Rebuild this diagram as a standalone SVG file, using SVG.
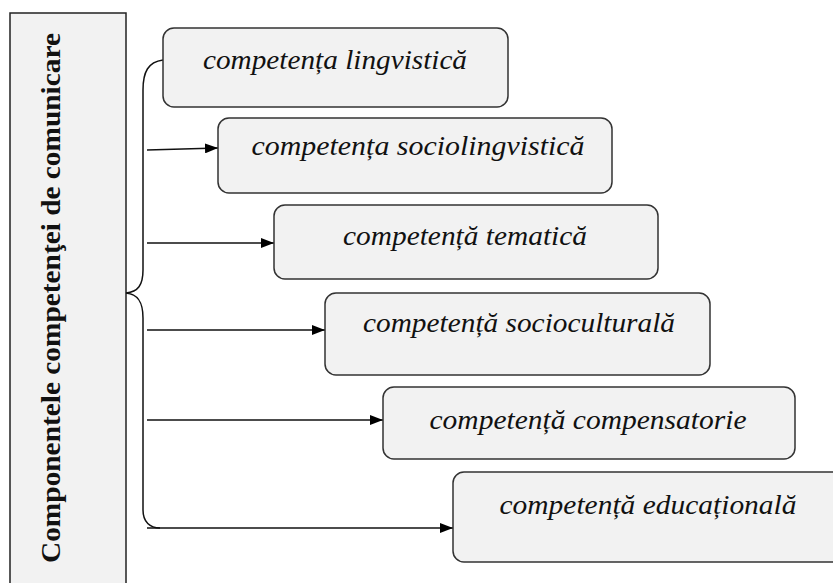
<svg xmlns="http://www.w3.org/2000/svg" width="833" height="583" viewBox="0 0 833 583">
<defs>
<marker id="arr" viewBox="0 0 13 10" refX="13" refY="5" markerWidth="13" markerHeight="10" markerUnits="userSpaceOnUse" orient="auto">
<path d="M0,0 L13,5 L0,10 Z" fill="#000"/>
</marker>
<style>
.box{fill:#f2f2f2;stroke:#333;stroke-width:1.5}
.lbl{font-family:"Liberation Serif","Times New Roman",serif;font-style:italic;font-size:27px;fill:#111;text-anchor:middle}
.ttl{font-family:"Liberation Serif","Times New Roman",serif;font-weight:bold;font-size:28px;fill:#111;text-anchor:middle}
.con{fill:none;stroke:#111;stroke-width:1.5}
</style>
</defs>
<rect width="833" height="583" fill="#fff"/>
<g id="title">
<rect x="10" y="13" width="116" height="580" fill="#f2f2f2" stroke="#222" stroke-width="1.5"/>
<text class="ttl" transform="translate(60,298) rotate(-90)" textLength="530" lengthAdjust="spacingAndGlyphs">Componentele competenţei de comunicare</text>
</g>
<g id="connectors">
<path class="con" d="M163,60 C148,62 143,72 143,90 L143,270 C143,285 138,292 126,293 C138,294 143,302 143,318 L143,510 C143,522 150,528 160,528"/>
<line class="con" x1="147" y1="150" x2="218" y2="148" marker-end="url(#arr)"/>
<line class="con" x1="147" y1="243" x2="274" y2="243" marker-end="url(#arr)"/>
<line class="con" x1="147" y1="330" x2="325" y2="330" marker-end="url(#arr)"/>
<line class="con" x1="147" y1="420" x2="383" y2="420" marker-end="url(#arr)"/>
<line class="con" x1="147" y1="528" x2="453" y2="528" marker-end="url(#arr)"/>
</g>
<g id="n1"><rect class="box" x="163" y="28" width="345" height="79" rx="11"/><text class="lbl" x="335" y="69" textLength="264" lengthAdjust="spacingAndGlyphs">competența lingvistică</text></g>
<g id="n2"><rect class="box" x="218" y="118" width="394" height="75" rx="11"/><text class="lbl" x="418" y="155" textLength="333" lengthAdjust="spacingAndGlyphs">competența sociolingvistică</text></g>
<g id="n3"><rect class="box" x="274" y="205" width="384" height="74" rx="11"/><text class="lbl" x="465" y="245" textLength="244" lengthAdjust="spacingAndGlyphs">competență tematică</text></g>
<g id="n4"><rect class="box" x="325" y="293" width="385" height="82" rx="11"/><text class="lbl" x="519" y="332" textLength="312" lengthAdjust="spacingAndGlyphs">competență socioculturală</text></g>
<g id="n5"><rect class="box" x="383" y="387" width="412" height="72" rx="11"/><text class="lbl" x="588" y="429" textLength="317" lengthAdjust="spacingAndGlyphs">competență compensatorie</text></g>
<g id="n6"><rect class="box" x="453" y="472" width="390" height="90" rx="11"/><text class="lbl" x="648" y="514" textLength="297" lengthAdjust="spacingAndGlyphs">competență educațională</text></g>
</svg>
